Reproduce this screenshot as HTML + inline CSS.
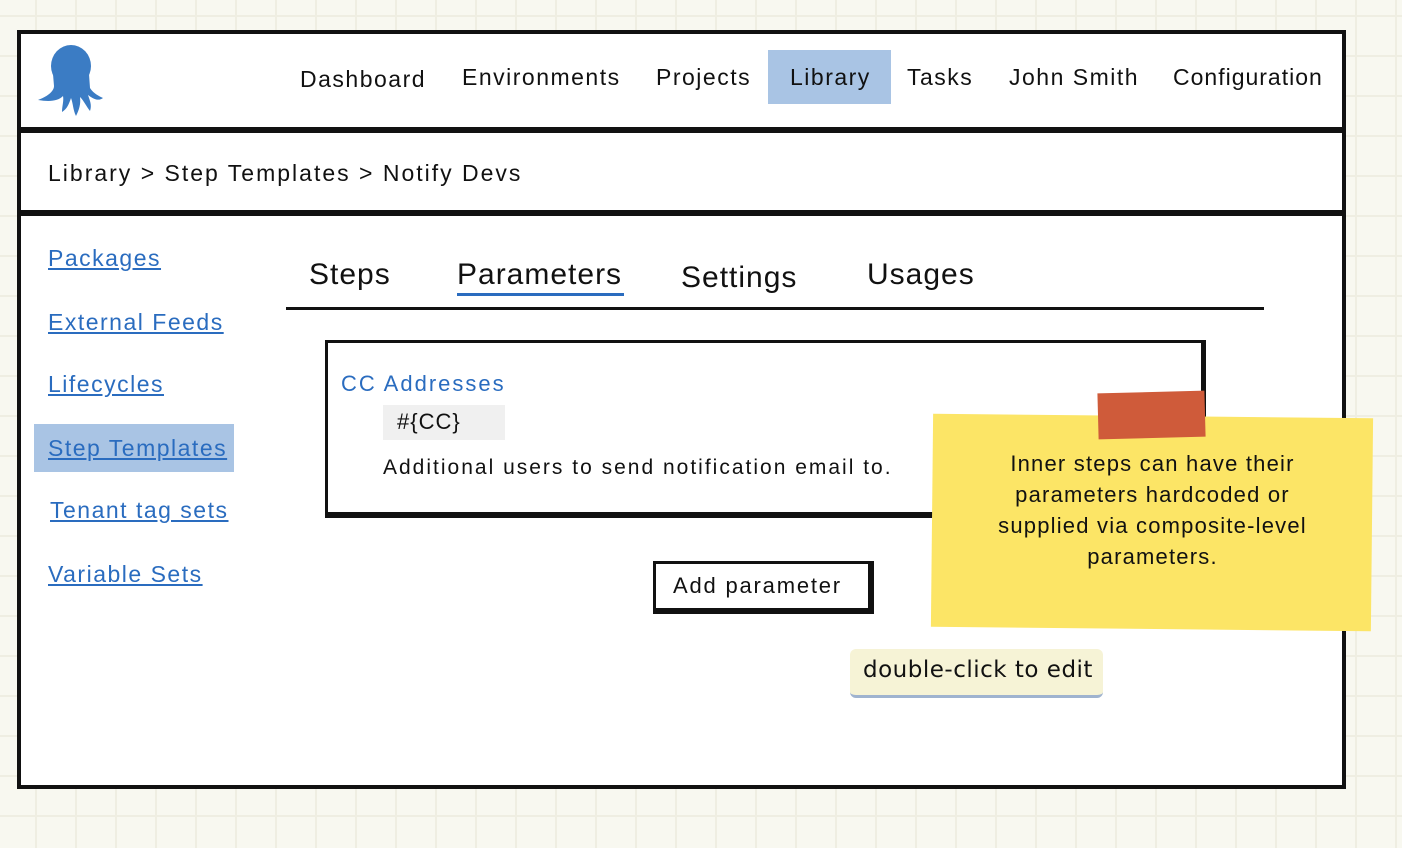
<!DOCTYPE html>
<html><head><meta charset="utf-8"><style>
html,body{margin:0;padding:0}
body{width:1402px;height:848px;position:relative;overflow:hidden;background-color:#f8f8f0;
background-image:linear-gradient(#efeee2 2px,transparent 2px),linear-gradient(90deg,#efeee2 2px,transparent 2px);
background-size:40px 40px;background-position:35px 15px;font-family:"Liberation Sans",sans-serif;color:#111}
.a{position:absolute}
.nav{position:absolute;top:64px;font-size:23px;letter-spacing:1.5px}
.lk{position:absolute;left:48px;font-size:23px;color:#2a6cbf;text-decoration:underline;letter-spacing:1.5px}
.tab{position:absolute;top:258px;font-size:30px;letter-spacing:1px}
</style></head><body>
<div class="a" style="left:17px;top:30px;width:1321px;height:751px;border:4px solid #111;background:#fff"></div>
<div class="a" style="left:17px;top:127px;width:1329px;height:6px;background:#111"></div>
<div class="a" style="left:17px;top:210px;width:1329px;height:6px;background:#111"></div>
<svg class="a" style="left:36px;top:44px" width="68" height="72" viewBox="0 0 68 72">
<g fill="#3b7cc4">
<ellipse cx="35" cy="22" rx="20" ry="21"/>
<path d="M17 30 L53 30 L54 44 C58 50 63 52 67 54 C62 58 56 54 52 51 C54 57 56 61 54 67 C50 62 48 57 44 53 C45 60 43 66 40 72 C37 66 37 59 35 54 C33 60 31 65 26 68 C26 62 28 57 27 52 C22 57 14 58 2 56 C10 53 18 48 18 42 Z"/>
</g></svg>
<div class="a" style="left:768px;top:50px;width:123px;height:54px;background:#a9c4e4"></div>
<div class="nav" style="left:300px;top:66px">Dashboard</div>
<div class="nav" style="left:462px">Environments</div>
<div class="nav" style="left:656px">Projects</div>
<div class="nav" style="left:790px">Library</div>
<div class="nav" style="left:907px">Tasks</div>
<div class="nav" style="left:1009px">John Smith</div>
<div class="nav" style="left:1173px;letter-spacing:1px">Configuration</div>
<div class="a" style="left:48px;top:160px;font-size:23px;letter-spacing:2px">Library &gt; Step Templates &gt; Notify Devs</div>
<div class="a" style="left:34px;top:424px;width:200px;height:48px;background:#a9c4e4"></div>
<div class="lk" style="top:245px">Packages</div>
<div class="lk" style="top:309px">External Feeds</div>
<div class="lk" style="top:371px">Lifecycles</div>
<div class="lk" style="top:435px">Step Templates</div>
<div class="lk" style="top:497px;left:50px">Tenant tag sets</div>
<div class="lk" style="top:561px">Variable Sets</div>
<div class="tab" style="left:309px">Steps</div>
<div class="tab" style="left:457px">Parameters</div>
<div class="a" style="left:457px;top:293px;width:167px;height:3px;background:#2a6cbf"></div>
<div class="tab" style="left:681px;top:261px">Settings</div>
<div class="tab" style="left:867px">Usages</div>
<div class="a" style="left:286px;top:307px;width:978px;height:3px;background:#111"></div>
<div class="a" style="left:325px;top:340px;width:873px;height:169px;border:3px solid #111;border-right-width:5px;border-bottom-width:6px;background:#fff"></div>
<div class="a" style="left:341px;top:371px;font-size:22px;color:#2a6cbf;letter-spacing:2px">CC Addresses</div>
<div class="a" style="left:383px;top:405px;width:122px;height:35px;background:#f0f0f0"></div>
<div class="a" style="left:397px;top:409px;font-size:22px;letter-spacing:1px">#{CC}</div>
<div class="a" style="left:383px;top:456px;font-size:21px;letter-spacing:2px">Additional users to send notification email to.</div>
<div class="a" style="left:653px;top:561px;width:212px;height:44px;border:3px solid #111;border-right-width:6px;border-bottom-width:6px;background:#fff"></div>
<div class="a" style="left:673px;top:573px;font-size:22px;letter-spacing:1.8px">Add parameter</div>
<div class="a" style="left:932px;top:416px;width:440px;height:213px;background:#fce566;transform:rotate(0.6deg)"></div>
<div class="a" style="left:1098px;top:392px;width:107px;height:46px;background:#cf5b3a;transform:rotate(-1.5deg)"></div>
<div class="a" style="left:940px;top:448px;width:425px;text-align:center;font-size:22px;line-height:31px;letter-spacing:1.2px;white-space:nowrap">Inner steps can have their<br>parameters hardcoded or<br>supplied via composite-level<br>parameters.</div>
<div class="a" style="left:850px;top:649px;width:253px;height:46px;background:#f6f3d6;border-radius:6px;border-bottom:3px solid #9fb3cf"></div>
<div class="a" style="left:863px;top:657px;font-family:'DejaVu Sans',sans-serif;font-size:23px;letter-spacing:0.5px">double-click to edit</div>
</body></html>
